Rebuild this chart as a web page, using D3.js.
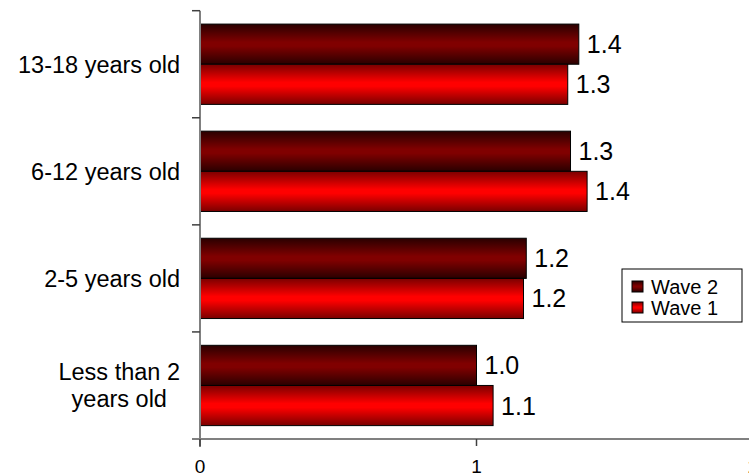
<!DOCTYPE html>
<html>
<head>
<meta charset="utf-8">
<script src="https://cdn.jsdelivr.net/npm/d3@7"></script>
<style>
  html, body { margin: 0; padding: 0; background: #fff; }
  svg { display: block; font-family: "Liberation Sans", Arial, sans-serif; }
</style>
</head>
<body>
<svg id="chart" width="749" height="476"></svg>
<script>
// ---- data ----
const categories = ["13-18 years old", "6-12 years old", "2-5 years old", "Less than 2 years old"];
const seriesNames = ["Wave 2", "Wave 1"];
const wave2 = [1.37, 1.34, 1.18, 1.00];
const wave1 = [1.33, 1.40, 1.17, 1.06];
const xTicks = [0, 1, 2];

const seriesValues = { "Wave 2": wave2, "Wave 1": wave1 };

const W = 749, H = 476;
const margin = { left: 200, top: 10.7, bottom: 37 };
const svg = d3.select("#chart");

const x = d3.scaleLinear().domain([0, 2]).range([200, 753]);
const y = d3.scaleBand().domain(categories).range([margin.top, H - margin.bottom]).paddingInner(0).paddingOuter(0);
const bw = y.bandwidth();
const ySub = d3.scaleBand().domain(seriesNames).range([bw * 0.125, bw * 0.875]).padding(0);

// gradients
const defs = svg.append("defs");
const grads = {
  "Wave 2": [["0%", "#2a0000"], ["45%", "#800000"], ["55%", "#800000"], ["100%", "#2a0000"]],
  "Wave 1": [["0%", "#7a0000"], ["45%", "#ff0000"], ["55%", "#ff0000"], ["100%", "#7a0000"]]
};
seriesNames.forEach((s, i) => {
  const g = defs.append("linearGradient").attr("id", "g" + i).attr("x1", 0).attr("y1", 0).attr("x2", 0).attr("y2", 1);
  grads[s].forEach(([o, c]) => g.append("stop").attr("offset", o).attr("stop-color", c));
});
const fillFor = s => "url(#g" + seriesNames.indexOf(s) + ")";

// bars
const rows = categories.map((c, i) => ({ c, vals: seriesNames.map(s => ({ s, v: seriesValues[s][i] })) }));
const groups = svg.append("g").selectAll("g").data(rows).join("g")
  .attr("transform", d => `translate(0,${y(d.c)})`);

groups.selectAll("rect").data(d => d.vals).join("rect")
  .attr("x", x(0))
  .attr("y", d => ySub(d.s))
  .attr("width", d => x(d.v) - x(0))
  .attr("height", ySub.bandwidth())
  .attr("fill", d => fillFor(d.s))
  .attr("stroke", "#000")
  .attr("stroke-width", 1);

groups.selectAll("text.val").data(d => d.vals).join("text")
  .attr("class", "val")
  .attr("x", d => x(d.v) + 8)
  .attr("y", d => ySub(d.s) + ySub.bandwidth() / 2)
  .attr("dy", "0.36em")
  .attr("font-size", 25)
  .attr("fill", "#000")
  .text(d => d3.format(".1f")(d.v));

// y axis
const yAxisG = svg.append("g");
yAxisG.append("line")
  .attr("x1", x(0)).attr("x2", x(0))
  .attr("y1", margin.top).attr("y2", H - margin.bottom + 8)
  .attr("stroke", "#808080").attr("stroke-width", 2);
const boundaries = categories.map(c => y(c));
yAxisG.selectAll("line.tick").data(boundaries).join("line")
  .attr("class", "tick")
  .attr("x1", x(0) - 8).attr("x2", x(0))
  .attr("y1", d => d).attr("y2", d => d)
  .attr("stroke", "#404040").attr("stroke-width", 1.5);

// category labels (wrapped, block right-aligned, lines centred)
const labelFont = 23.5, labelRight = 180, maxW = 170;
const measure = svg.append("text").attr("font-size", labelFont).attr("visibility", "hidden");
const tw = s => { measure.text(s); return measure.node().getComputedTextLength(); };
categories.forEach(c => {
  const words = c.split(" ");
  const lines = [];
  let cur = "";
  words.forEach(w => {
    const t = cur ? cur + " " + w : w;
    if (tw(t) > maxW && cur) { lines.push(cur); cur = w; } else cur = t;
  });
  lines.push(cur);
  const blockW = d3.max(lines, tw);
  const cx = labelRight - blockW / 2;
  const lh = 27;
  const cy = y(c) + bw / 2;
  const t = svg.append("text").attr("font-size", labelFont).attr("text-anchor", "middle").attr("fill", "#000");
  lines.forEach((ln, i) => {
    t.append("tspan").attr("x", cx)
      .attr("y", cy + (i - (lines.length - 1) / 2) * lh)
      .attr("dy", "0.36em").text(ln);
  });
});
measure.remove();

// x axis
const xAxisY = H - margin.bottom;
svg.append("line")
  .attr("x1", x(0) - 8).attr("x2", W)
  .attr("y1", xAxisY).attr("y2", xAxisY)
  .attr("stroke", "#808080").attr("stroke-width", 2);
svg.selectAll("line.xt").data(xTicks).join("line")
  .attr("class", "xt")
  .attr("x1", d => x(d)).attr("x2", d => x(d))
  .attr("y1", xAxisY).attr("y2", xAxisY + 7)
  .attr("stroke", "#404040").attr("stroke-width", 1.5);
svg.selectAll("text.xl").data(xTicks).join("text")
  .attr("class", "xl")
  .attr("x", d => x(d)).attr("y", xAxisY + 27)
  .attr("dy", "0.36em")
  .attr("text-anchor", "middle")
  .attr("font-size", 19)
  .attr("fill", "#000")
  .text(d => d);

// legend
const lg = svg.append("g").attr("transform", "translate(622,269)");
lg.append("rect").attr("width", 120).attr("height", 53)
  .attr("fill", "#fff").attr("stroke", "#000").attr("stroke-width", 1);
seriesNames.forEach((s, i) => {
  const ry = 18 + i * 21;
  lg.append("rect").attr("x", 10).attr("y", ry - 6).attr("width", 11).attr("height", 11)
    .attr("fill", fillFor(s)).attr("stroke", "#000").attr("stroke-width", 1);
  lg.append("text").attr("x", 29).attr("y", ry).attr("dy", "0.36em")
    .attr("font-size", 20).attr("fill", "#000").text(s);
});
</script>
</body>
</html>
